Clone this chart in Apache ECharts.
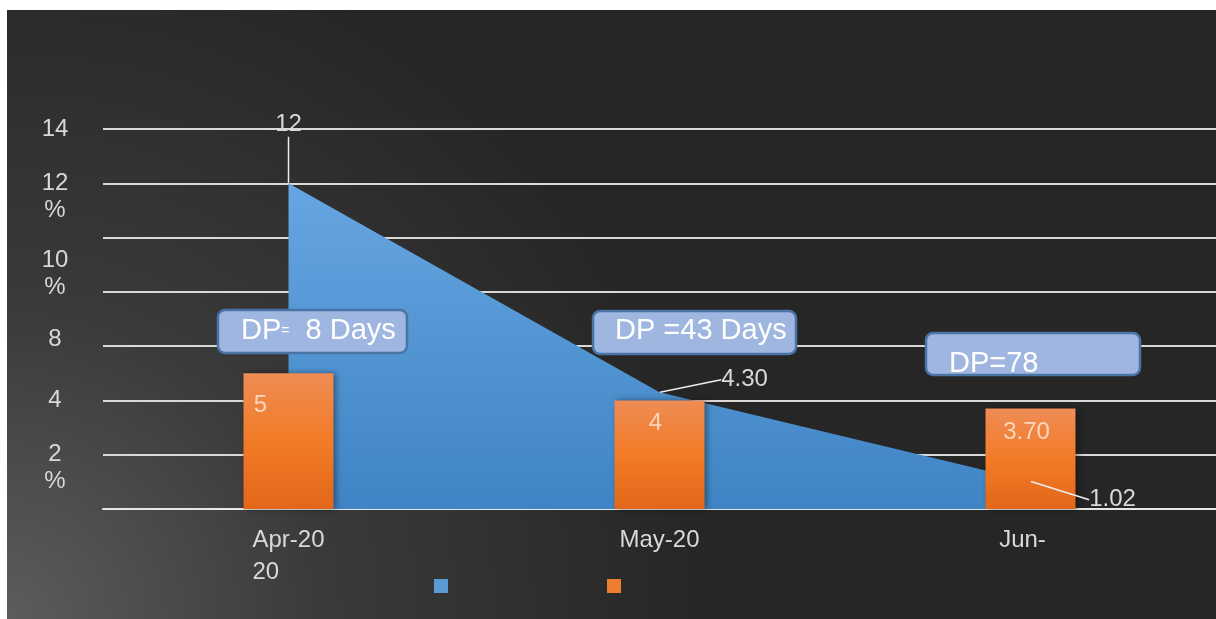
<!DOCTYPE html>
<html>
<head>
<meta charset="utf-8">
<script src="https://cdn.jsdelivr.net/npm/echarts@6/dist/echarts.min.js"></script>
<style>
  html, body { margin: 0; padding: 0; background: #ffffff; }
  #main {
    position: absolute; left: 7px; top: 10px; width: 1209px; height: 609px;
    background: radial-gradient(circle 700px at 0 100%, #5c5c5c 0%, #3a3a3a 45%, #262626 100%);
  }
</style>
</head>
<body>
<div id="main"></div>
<script>
// categories and values
const months = ['Apr-20', 'May-20', 'Jun-20'];
const monthLabels = ['{n|Apr-20}\n{l|20}', '{n|May-20}', '{j|Jun-}'];
const areaValues = [12, 4.30, 1.02];
const areaLabels = ['12', '4.30', '1.02'];
const barValues = [5, 4, 3.70];
const barLabels = ['5', '4', '3.70'];
// y tick texts as they appear (garbled in the source slide)
const yTickText = { 14: '14', 12: '12\n%', 10: '10\n%', 8: '', 6: '8', 4: '4', 2: '2\n%', 0: '' };
const boxTexts = ['{a|DP}{b|=}{a|  8 Days}', '{a|DP =43 Days}', '{a|DP=78}'];

const font = '"Liberation Sans", Arial, sans-serif';
const blue = '#5b9bd5';
const orange = '#ed7d31';
const chart = echarts.init(document.getElementById('main'));

// little spacer lines so each tick text sits where it does in the slide
const ySpacer = { 12: ['t', 27], 10: ['t', 73], 6: ['b', 14], 2: ['t', 27] };
function yLabel(v) {
  const t = yTickText[v];
  if (!t) return '';
  const lines = t.split('\n').map(s => '{n|' + s + '}');
  const sp = ySpacer[v];
  if (sp) {
    const tok = '{s' + sp[1] + '| }';
    if (sp[0] === 't') lines.unshift(tok); else lines.push(tok);
  }
  return lines.join('\n');
}

const barLabelShift = [[-28, 15], [-4, 6], [-4, 7]];
const areaLabelShift = [[0, -41], [85, 5], [82, 36]];

function box(x, y, w, h, text, tx, ty) {
  return {
    type: 'group',
    children: [
      { type: 'rect', z: 100, shape: { x: x, y: y, width: w, height: h, r: 7 },
        style: { fill: '#9fb7e0', stroke: '#4a74a6', lineWidth: 2.5 } },
      { type: 'text', z: 101, style: {
          x: tx, y: ty, text: text, verticalAlign: 'middle',
          rich: {
            a: { fontSize: 29, fontFamily: font, fill: '#ffffff' },
            b: { fontSize: 14, fontFamily: font, fill: '#ffffff' }
          } } }
    ]
  };
}

const txt = { fontSize: 24, fontFamily: font, color: '#d9d9d9' };

chart.setOption({
  backgroundColor: 'transparent',
  animation: false,
  grid: { left: 96, right: 0, top: 119, bottom: 110 },
  legend: {
    left: 427, top: 569, padding: 0,
    itemWidth: 14, itemHeight: 14, itemGap: 159, icon: 'rect',
    data: [
      { name: 'Series 1', itemStyle: { color: blue, opacity: 1 } },
      { name: 'Series 2', itemStyle: { color: orange } }
    ],
    formatter: () => ''
  },
  xAxis: {
    type: 'category',
    data: months,
    axisLine: { lineStyle: { color: '#e6e6e6', width: 2 } },
    axisTick: { show: false },
    axisLabel: {
      margin: 15,
      formatter: (v, i) => monthLabels[i],
      rich: {
        n: Object.assign({ lineHeight: 32 }, txt),
        l: Object.assign({ lineHeight: 32, align: 'left' }, txt),
        j: Object.assign({ lineHeight: 32, padding: [0, 16, 0, 0] }, txt)
      }
    }
  },
  yAxis: {
    type: 'value',
    min: 0, max: 14, interval: 2,
    axisLine: { show: false },
    axisTick: { show: false },
    splitLine: { lineStyle: { color: '#d9d9d9', width: 2 } },
    axisLabel: {
      margin: 48, align: 'center',
      formatter: yLabel,
      rich: {
        n: Object.assign({ lineHeight: 27, align: 'center' }, txt),
        s27: { lineHeight: 27, fontSize: 10 },
        s73: { lineHeight: 73, fontSize: 10 },
        s14: { lineHeight: 14, fontSize: 10 }
      }
    }
  },
  series: [
    {
      name: 'Series 1',
      type: 'line',
      z: 1,
      data: areaValues,
      showSymbol: false,
      itemStyle: { color: blue },
      lineStyle: { width: 0 },
      areaStyle: {
        opacity: 1,
        color: new echarts.graphic.LinearGradient(0, 0, 0, 1, [
          { offset: 0, color: '#66a6e2' },
          { offset: 1, color: '#3f84c4' }
        ])
      }
    },
    {
      name: 'Series 2',
      type: 'bar',
      z: 3,
      barWidth: 90,
      data: barValues.map((v, i) => ({ value: v, label: { offset: barLabelShift[i] } })),
      itemStyle: {
        color: new echarts.graphic.LinearGradient(0, 0, 0, 1, [
          { offset: 0, color: '#ef8c55' },
          { offset: 0.5, color: '#f27b27' },
          { offset: 1, color: '#e2671a' }
        ]),
        shadowBlur: 6, shadowColor: 'rgba(0,0,0,0.4)', shadowOffsetX: 2
      },
      label: {
        show: true, position: 'insideTop', distance: 5,
        fontSize: 24, fontFamily: font, color: 'rgba(255,240,230,0.75)',
        formatter: p => barLabels[p.dataIndex]
      }
    },
    {
      // data labels of the area, drawn above the bars
      name: 'Series 1 labels',
      type: 'scatter',
      z: 5,
      data: areaValues,
      symbolSize: 1,
      itemStyle: { color: 'rgba(0,0,0,0)', opacity: 1 },
      label: Object.assign({
        show: true, position: 'top', distance: 5, opacity: 1,
        formatter: p => areaLabels[p.dataIndex]
      }, txt),
      labelLine: { show: true, lineStyle: { color: '#eeeeee', width: 1.5, opacity: 1 } },
      labelLayout: p => ({ dx: areaLabelShift[p.dataIndex][0], dy: areaLabelShift[p.dataIndex][1] })
    }
  ],
  graphic: [
    box(211, 300, 189, 43, boxTexts[0], 234, 321),
    box(586, 301, 203, 43, boxTexts[1], 608, 321),
    box(919, 323, 214, 42, boxTexts[2], 942, 354)
  ]
});
</script>
</body>
</html>
